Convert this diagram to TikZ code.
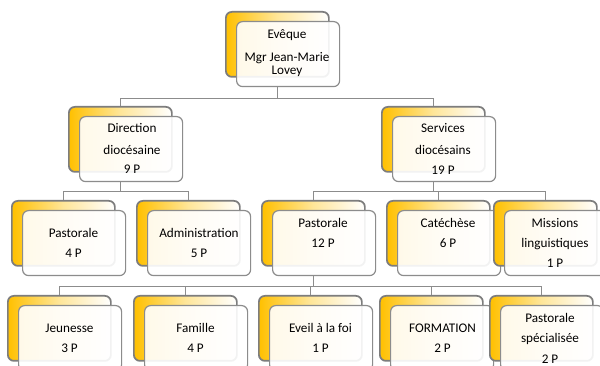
\documentclass[tikz,border=0pt]{standalone}
\usepackage{fontspec}
\setmainfont{Carlito}
\definecolor{gold}{RGB}{255,192,0}
\definecolor{backline}{RGB}{125,125,125}
\definecolor{frontline}{RGB}{140,140,140}
\definecolor{connline}{RGB}{140,140,140}
\tikzset{
  backbox/.style={draw=backline, line width=1.3pt, rounded corners=4.5pt,
    left color=gold, right color=white, middle color=gold!40!white,
    minimum width=77.25pt, minimum height=48.75pt, inner sep=0pt, anchor=north west},
  frontbox/.style={draw=frontline, line width=0.9pt, rounded corners=4.5pt,
    fill=white, fill opacity=0.9,
    minimum width=77.25pt, minimum height=48.75pt, inner sep=0pt, anchor=north west},
  lbl/.style={anchor=base, inner sep=0pt, font=\fontsize{9.9pt}{12pt}\selectfont, text=black},
  conn/.style={draw=connline, line width=0.75pt}
}
\newcommand{\orgunit}[3]{%
  \node[backbox] (#1) at (#2,#3) {};
  \node[frontbox] (#1f) at (#2+11,#3+10) {};
}
\begin{document}
\begin{tikzpicture}[x=0.75pt, y=-0.75pt]
\path[use as bounding box, clip] (0,0) rectangle (600,366);
\fill[white] (0,0) rectangle (600,366);

\orgunit{ev}{225}{11}
\orgunit{dir}{68}{106}
\orgunit{srv}{381}{106}
\orgunit{paa}{11}{200}
\orgunit{adm}{136}{200}
\orgunit{pab}{261}{200}
\orgunit{cat}{386}{200}
\orgunit{mis}{493}{200}
\orgunit{jeu}{7}{295}
\orgunit{fam}{133}{295}
\orgunit{eve}{258}{295}
\orgunit{frm}{379}{295}
\orgunit{psp}{489}{295}

% connectors
\draw[conn] (ev.south|-evf.south) -- ++(0,11) -| (dir.north);
\draw[conn] (ev.south|-evf.south) -- ++(0,11) -| (srv.north);
\draw[conn] (dir.south|-dirf.south) -- ++(0,9) -| (paa.north);
\draw[conn] (dir.south|-dirf.south) -- ++(0,9) -| (adm.north);
\draw[conn] (srv.south|-srvf.south) -- ++(0,9) -| (pab.north);
\draw[conn] (srv.south|-srvf.south) -- ++(0,9) -| (cat.north);
\draw[conn] (srv.south|-srvf.south) -- ++(0,9) -| (mis.north);
\draw[conn] (pab.south|-pabf.south) -- ++(0,10) -| (jeu.north);
\draw[conn] (pab.south|-pabf.south) -- ++(0,10) -| (fam.north);
\draw[conn] (pab.south|-pabf.south) -- ++(0,10) -| (eve.north);
\draw[conn] (pab.south|-pabf.south) -- ++(0,10) -| (frm.north);
\draw[conn] (pab.south|-pabf.south) -- ++(0,10) -| (psp.north);

% texts
\node[lbl] (evta) at (287,39) {Evêque};
\node[lbl] (evtb) at (287,61.5) {Mgr Jean-Marie};
\node[lbl] (evtc) at (287,75) {Lovey};

\node[lbl] (dirta) at (132,132.5) {Direction};
\node[lbl] (dirtb) at (132,154.5) {diocésaine};
\node[lbl] (dirtc) at (132,173.5) {9 P};

\node[lbl] (srvta) at (443,132.5) {Services};
\node[lbl] (srvtb) at (443,154.5) {diocésains};
\node[lbl] (srvtc) at (443,174.5) {19 P};

\node[lbl] (paata) at (73.5,237.5) {Pastorale};
\node[lbl] (paatb) at (73.5,257.5) {4 P};

\node[lbl] (admta) at (199,237.5) {Administration};
\node[lbl] (admtb) at (199,257.5) {5 P};

\node[lbl] (pabta) at (323,227.5) {Pastorale};
\node[lbl] (pabtb) at (323,247.5) {12 P};

\node[lbl] (catta) at (448,227.5) {Catéchèse};
\node[lbl] (cattb) at (448,247.5) {6 P};

\node[lbl] (mista) at (555,227.5) {Missions};
\node[lbl] (mistb) at (555,247.5) {linguistiques};
\node[lbl] (mistc) at (555,267.5) {1 P};

\node[lbl] (jeuta) at (69.5,332.5) {Jeunesse};
\node[lbl] (jeutb) at (69.5,352.5) {3 P};

\node[lbl] (famta) at (195.5,332.5) {Famille};
\node[lbl] (famtb) at (195.5,352.5) {4 P};

\node[lbl] (eveta) at (320.5,332.5) {Eveil à la foi};
\node[lbl] (evetb) at (320.5,352.5) {1 P};

\node[lbl] (frmta) at (442.5,332.5) {FORMATION};
\node[lbl] (frmtb) at (442.5,352.5) {2 P};

\node[lbl] (pspta) at (550,322.5) {Pastorale};
\node[lbl] (psptb) at (550,343) {spécialisée};
\node[lbl] (psptc) at (550,364) {2 P};
\end{tikzpicture}
\end{document}
